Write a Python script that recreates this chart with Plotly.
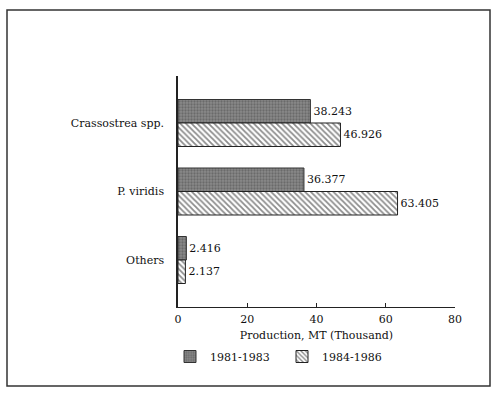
import plotly.graph_objects as go

categories = ["Crassostrea spp.", "P. viridis", "Others"]
series_names = ["1981-1983", "1984-1986"]
values_1981_1983 = [38.243, 36.377, 2.416]
values_1984_1986 = [46.926, 63.405, 2.137]
x_ticks = [0, 20, 40, 60, 80]

W, H = 500, 393
L, R, T, B = 178, 45, 76, 86
pw, ph = W - L - R, H - T - B

font = dict(family="DejaVu Serif", size=11, color="#111")

fig = go.Figure()
fig.add_trace(go.Bar(
    y=categories, x=values_1981_1983, name=series_names[0], orientation="h",
    text=[f"{v:.3f}" for v in values_1981_1983], textposition="outside",
    textfont=font, cliponaxis=False,
    marker=dict(color="#767676", line=dict(color="#333", width=1),
                pattern=dict(shape=".", fgcolor="#4a4a4a", bgcolor="#8a8a8a",
                             size=3, solidity=0.45)),
))
fig.add_trace(go.Bar(
    y=categories, x=values_1984_1986, name=series_names[1], orientation="h",
    text=[f"{v:.3f}" for v in values_1984_1986], textposition="outside",
    textfont=font, cliponaxis=False,
    marker=dict(color="white", line=dict(color="#222", width=1),
                pattern=dict(shape="\\", fgcolor="#1a1a1a", bgcolor="white",
                             size=4, solidity=0.45)),
))

def px_x(p):
    return (p - L) / pw

def px_y(p):
    return (T + ph - p) / ph

fig.add_shape(type="rect", xref="paper", yref="paper",
              x0=px_x(7), x1=px_x(490), y0=px_y(386), y1=px_y(10),
              line=dict(color="#333", width=1.5), fillcolor="rgba(0,0,0,0)")

fig.update_layout(
    width=W, height=H, margin=dict(l=L, r=R, t=T, b=B),
    paper_bgcolor="white", plot_bgcolor="white",
    barmode="group", bargap=0.314, bargroupgap=0,
    font=font, showlegend=True,
    legend=dict(orientation="h", x=px_x(170), y=px_y(342), xanchor="left",
                yanchor="top", font=font, traceorder="normal",
                bgcolor="rgba(0,0,0,0)", itemwidth=30,
                entrywidth=67, entrywidthmode="pixels"),
    xaxis=dict(range=[0, 80], tickvals=x_ticks, ticks="inside", ticklen=4,
               tickcolor="#222", showline=True, linecolor="#222", linewidth=1,
               showgrid=False, zeroline=False, ticklabelstandoff=2,
               title=dict(text="Production, MT (Thousand)", font=font, standoff=6),
               tickfont=font),
    yaxis=dict(range=[2.686, -0.686], showline=True, linecolor="#222",
               linewidth=1.5, showgrid=False, zeroline=False, ticks="",
               tickfont=font, ticklabelstandoff=10),
)

fig.write_html("out.html")
